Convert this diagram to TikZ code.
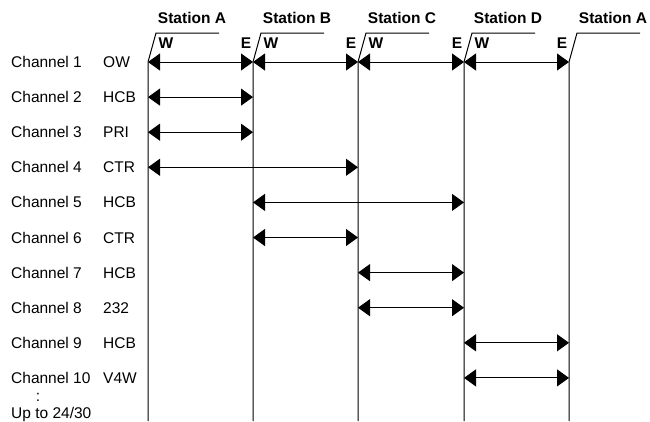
\documentclass[tikz,border=0pt]{standalone}
\usepackage{fontspec}
\setmainfont{Liberation Sans}
\usetikzlibrary{arrows.meta}
\begin{document}
\begin{tikzpicture}[x=1pt,y=-1pt,
    every node/.style={font=\fontsize{15.5}{18}\selectfont, inner sep=0pt, text height=11pt, text depth=0pt},
    link/.style={{Triangle[length=12pt,width=17pt]}-{Triangle[length=12pt,width=17pt]}, line width=1pt}]
\useasboundingbox (0,0) rectangle (650,421);
% stations
    \foreach \x/\s/\n in {148/A/sa,253/B/sb,358/C/sc,464/D/sd,569/A/se}{
        \draw[line width=1pt] (\x,421) -- (\x,62) -- ++(8,-29) -- ++(63,0);
        \node[font=\fontsize{15.5}{18}\selectfont\bfseries] (\n) at (\x+44,18) {Station \s};
        \foreach \i in {1,...,10}{
            \coordinate (\n-\i) at (\x,62+35.1*\i-35.1);
        }
    }
    \foreach \x/\n in {148/sa,253/sb,358/sc,464/sd}{
        \node[font=\fontsize{15.5}{18}\selectfont\bfseries] (w-\n) at (\x+18,43) {W};
    }
    \foreach \x/\n in {253/sb,358/sc,464/sd,569/se}{
        \node[font=\fontsize{15.5}{18}\selectfont\bfseries] (e-\n) at (\x-7,43) {E};
    }
% channels
    \foreach \i/\t in {1/OW,2/HCB,3/PRI,4/CTR,5/HCB,6/CTR,7/HCB,8/232,9/HCB,10/V4W}{
        \node[anchor=west] (ch\i) at (11,62+35.1*\i-35.1) {Channel \i};
        \node[anchor=west] (t\i) at (103,62+35.1*\i-35.1) {\t};
    }
    \node[text height=8pt] (dots) at (38,397) {:};
    \node[anchor=west] (upto) at (11,413) {Up to 24/30};
% links
    \foreach \a/\b in {sa-1/sb-1,sb-1/sc-1,sc-1/sd-1,sd-1/se-1,sa-2/sb-2,sa-3/sb-3,sa-4/sc-4,
        sb-5/sd-5,sb-6/sc-6,sc-7/sd-7,sc-8/sd-8,sd-9/se-9,sd-10/se-10}{
        \draw[link] (\a) -- (\b);
    }
\end{tikzpicture}
\end{document}
